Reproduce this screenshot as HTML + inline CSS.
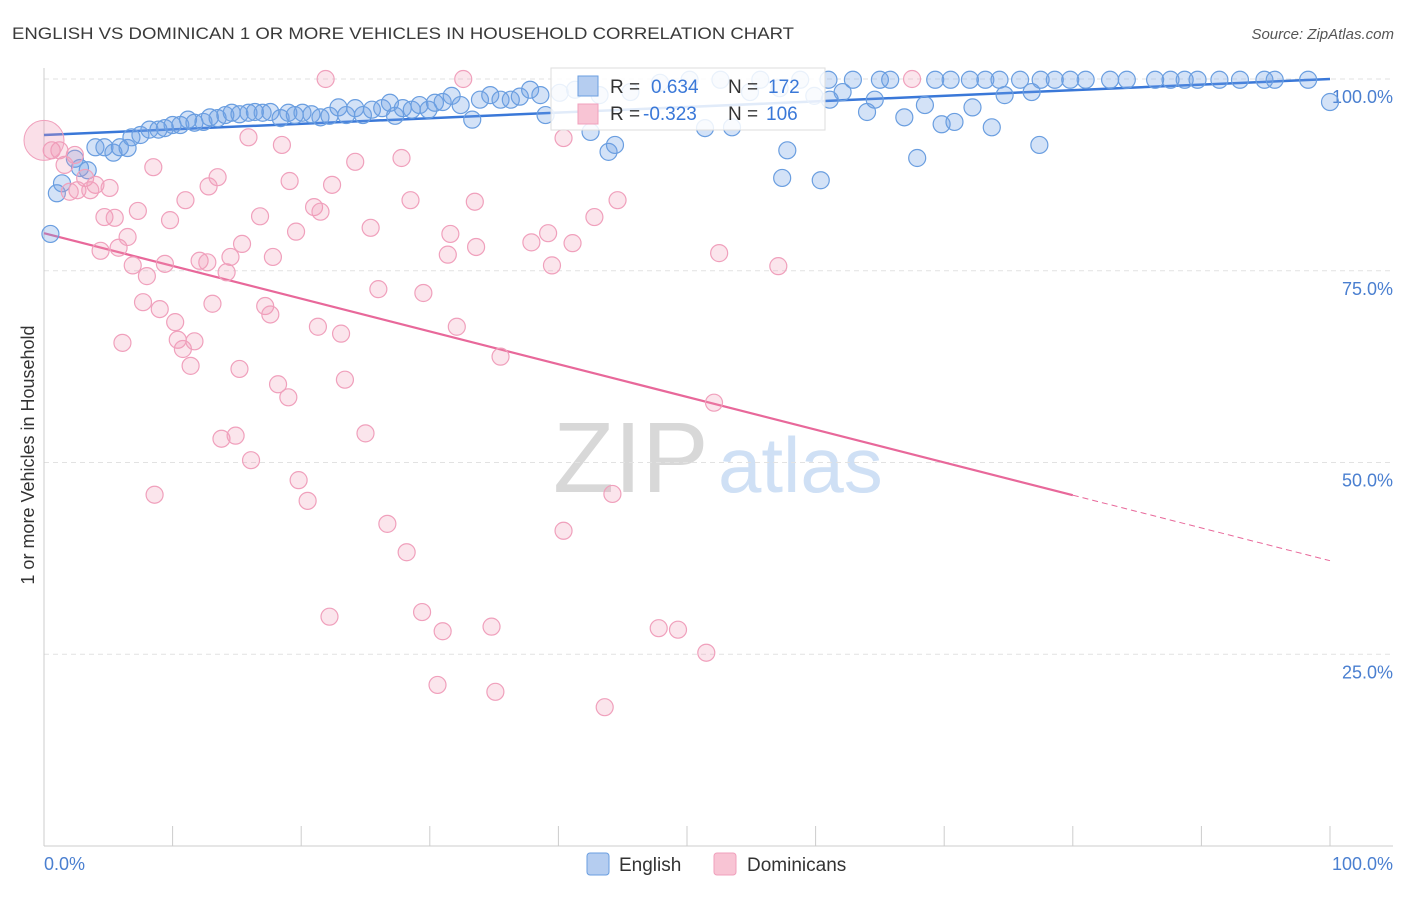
<!DOCTYPE html>
<html><head><meta charset="utf-8">
<style>
body{margin:0;background:#fff;font-family:"Liberation Sans",sans-serif;}
svg text{font-family:"Liberation Sans",sans-serif;}
</style></head>
<body>
<svg id="chart" width="1406" height="892" xmlns="http://www.w3.org/2000/svg">
<text x="12" y="39" font-size="17" fill="#3a3a3a" textLength="782" lengthAdjust="spacingAndGlyphs">ENGLISH VS DOMINICAN 1 OR MORE VEHICLES IN HOUSEHOLD CORRELATION CHART</text>
<text x="1394" y="39" font-size="15" fill="#555" text-anchor="end" font-style="italic">Source: ZipAtlas.com</text>
<g>
<text x="553" y="492" font-size="100" fill="#d8d8d8" font-family="Liberation Serif, serif">ZIP</text>
<text x="718" y="492" font-size="78" fill="#cfe0f5">atlas</text>
</g>
<g id="grid"></g>
<g id="axes"></g>
<g id="trends"></g>
<g id="points"></g>
<text transform="translate(34,455) rotate(-90)" font-size="18" fill="#333" text-anchor="middle">1 or more Vehicles in Household</text>
<text x="44" y="870" font-size="18" fill="#4a7fd0">0.0%</text>
<text x="1393" y="870" font-size="18" fill="#4a7fd0" text-anchor="end">100.0%</text>
<g>
<rect x="551" y="68" width="274" height="62" fill="#fff" fill-opacity="0.85" stroke="#ddd"/>
<rect x="578" y="76" width="20" height="20" fill="#b5cdf0" stroke="#6a9ee0"/>
<rect x="578" y="104" width="20" height="20" fill="#f8c4d4" stroke="#f0a0bc"/>
<text x="610" y="93" font-size="19" fill="#333">R =</text>
<text x="651" y="93" font-size="19" fill="#3a78d8">0.634</text>
<text x="728" y="93" font-size="19" fill="#333">N =</text>
<text x="768" y="93" font-size="19" fill="#3a78d8">172</text>
<text x="610" y="120" font-size="19" fill="#333">R =</text>
<text x="643" y="120" font-size="19" fill="#3a78d8">-0.323</text>
<text x="728" y="120" font-size="19" fill="#333">N =</text>
<text x="766" y="120" font-size="19" fill="#3a78d8">106</text>
</g>
<g>
<rect x="587" y="853" width="22" height="22" rx="3" fill="#b5cdf0" stroke="#6a9ee0"/>
<text x="619" y="871" font-size="19" fill="#333">English</text>
<rect x="714" y="853" width="22" height="22" rx="3" fill="#f8c4d4" stroke="#f0a0bc"/>
<text x="747" y="871" font-size="19" fill="#333">Dominicans</text>
</g>
</svg>
<script>
const yTicks=[25,50,75,100];
const yTickLabels=["25.0%","50.0%","75.0%","100.0%"];
const xTicks=[0,10,20,30,40,50,60,70,80,90,100];
const englishX=[1.0,0.5,1.4,2.4,2.8,3.4,4.0,4.7,5.4,5.9,6.5,6.8,7.5,8.2,8.9,9.4,10.0,10.6,11.2,11.7,12.4,12.9,13.5,14.1,14.6,15.2,15.9,16.4,17.0,17.6,18.4,19.0,19.5,20.1,20.8,21.5,22.2,22.9,23.5,24.2,24.8,25.5,26.3,26.9,27.3,27.9,28.6,29.2,29.9,30.4,31.0,31.7,32.4,33.3,33.9,34.7,35.5,36.3,37.0,37.8,38.6,39.0,40.1,41.3,42.5,43.9,44.4,43.2,45.6,47.9,50.2,51.4,52.6,53.5,54.9,55.7,57.2,57.4,57.8,58.8,59.9,60.4,61.0,61.1,62.1,62.9,64.0,64.6,65.0,65.8,66.9,67.9,68.5,69.3,69.8,70.8,70.5,72.0,72.2,73.2,73.7,74.3,74.7,75.9,77.5,76.8,77.4,78.6,79.8,81.0,82.9,84.2,86.4,87.6,88.7,89.7,91.4,93.0,94.9,95.7,98.3,100];
const englishY=[85.1,79.8,86.4,89.6,88.4,88.1,91.1,91.1,90.4,91.1,91.0,92.4,92.7,93.4,93.4,93.6,94.0,94.0,94.7,94.3,94.4,95.0,94.9,95.3,95.6,95.4,95.6,95.7,95.6,95.7,94.9,95.6,95.3,95.6,95.4,95.0,95.2,96.3,95.3,96.2,95.3,96.0,96.2,96.9,95.2,96.2,96.0,96.6,96.0,96.9,97.0,97.8,96.6,94.7,97.3,97.9,97.3,97.3,97.7,98.6,97.9,95.3,98.2,98.6,93.1,90.5,91.4,97.9,98.3,99.5,99.9,93.6,99.9,93.7,98.3,99.9,98.8,87.1,90.7,99.9,97.8,86.8,99.9,97.3,98.3,99.9,95.7,97.3,99.9,99.9,95.0,89.7,96.6,99.9,94.1,94.4,99.9,99.9,96.3,99.9,93.7,99.9,97.9,99.9,99.9,98.3,91.4,99.9,99.9,99.9,99.9,99.9,99.9,99.9,99.9,99.9,99.9,99.9,99.9,99.9,99.9,97.0];
const domX=[0.6,1.2,2.4,1.6,3.2,4.0,2.6,3.6,5.1,2.0,4.7,5.5,7.3,9.8,11.0,8.5,12.8,13.5,15.9,18.5,19.1,22.4,24.2,27.8,28.5,33.5,40.4,44.6,42.8,39.2,37.9,41.1,39.5,33.6,31.4,31.6,25.4,21.0,21.5,19.6,16.8,15.4,17.8,14.5,12.1,12.7,14.2,9.4,8.0,6.9,5.8,6.5,4.4,7.7,9.0,10.2,13.1,17.2,17.6,21.3,23.1,26.0,29.5,32.1,35.5,6.1,10.4,10.8,11.7,11.4,15.2,18.2,19.0,23.4,13.8,14.9,16.1,25.0,8.6,19.8,20.5,26.7,28.2,40.4,44.2,52.1,52.5,57.1,22.2,29.4,31.0,34.8,30.6,35.1,43.6,47.8,49.3,51.5,21.9,32.6,67.5];
const domY=[90.7,90.7,90.1,88.8,87.1,86.2,85.5,85.5,85.8,85.3,82.0,81.9,82.8,81.6,84.2,88.5,86.0,87.2,92.4,91.4,86.7,86.2,89.2,89.7,84.2,84.0,92.3,84.2,82.0,79.9,78.7,78.6,75.7,78.1,77.1,79.8,80.6,83.3,82.7,80.1,82.1,78.5,76.8,76.8,76.3,76.1,74.8,75.9,74.3,75.7,78.0,79.4,77.6,70.9,70.0,68.3,70.7,70.4,69.3,67.7,66.8,72.6,72.1,67.7,63.8,65.6,66.0,64.8,65.8,62.6,62.2,60.2,58.5,60.8,53.1,53.5,50.3,53.8,45.8,47.7,45.0,42.0,38.3,41.1,45.9,57.8,77.3,75.6,29.9,30.5,28.0,28.6,21.0,20.1,18.1,28.4,28.2,25.2,100,100,100];
const englishTrend=[92.7,100];
const domTrend=[79.9,37.2];
const domSolidEnd=80;

const NS="http://www.w3.org/2000/svg";
const X=v=>44+v*12.86, Y=v=>846-v*7.67;
function mk(t,a,p){const e=document.createElementNS(NS,t);for(const k in a)e.setAttribute(k,a[k]);p.appendChild(e);return e;}
const grid=document.getElementById('grid'),axes=document.getElementById('axes'),tr=document.getElementById('trends'),pts=document.getElementById('points');
yTicks.forEach((t,i)=>{
 const l=mk('line',{x1:44,x2:1393,y1:Y(t),y2:Y(t),stroke:'#e2e2e2','stroke-dasharray':'5,4'},grid);
 
 
 const tx=mk('text',{x:1393,y:Y(t)+24,'font-size':18,fill:'#4a7fd0','text-anchor':'end'},grid);
 tx.textContent=yTickLabels[i];
 
 
});
let a=mk('line',{x1:44,x2:44,y1:68,y2:846,stroke:'#ccc'},axes);


a=mk('line',{x1:44,x2:1393,y1:846,y2:846,stroke:'#ccc'},axes);


xTicks.forEach(t=>{
 const l=mk('line',{x1:X(t),x2:X(t),y1:826,y2:846,stroke:'#ccc'},axes);
 
 
});
englishX.forEach((x,i)=>{
 const c=mk('circle',{cx:X(x),cy:Y(englishY[i]),r:8.5,fill:'rgba(110,160,230,0.3)',stroke:'#6a9ee0','stroke-width':1.2},pts);
 
 
});
domX.forEach((x,i)=>{
 const c=mk('circle',{cx:X(x),cy:Y(domY[i]),r:8.5,fill:'rgba(240,150,180,0.25)',stroke:'#f0a0bc','stroke-width':1.2},pts);
 
 
});
const big=mk('circle',{cx:X(0),cy:Y(92),r:20,fill:'rgba(240,150,180,0.3)',stroke:'#f0a0bc'},pts);


let t=mk('line',{x1:X(0),y1:Y(englishTrend[0]),x2:X(100),y2:Y(englishTrend[1]),stroke:'#3a78d8','stroke-width':2.5},tr);


const dy=v=>domTrend[0]+(domTrend[1]-domTrend[0])*v/100;
t=mk('line',{x1:X(0),y1:Y(dy(0)),x2:X(domSolidEnd),y2:Y(dy(domSolidEnd)),stroke:'#e8689a','stroke-width':2.2},tr);


t=mk('line',{x1:X(domSolidEnd),y1:Y(dy(domSolidEnd)),x2:X(100),y2:Y(dy(100)),stroke:'#e8689a','stroke-width':1,'stroke-dasharray':'6,4'},tr);


</script>
</body></html>
